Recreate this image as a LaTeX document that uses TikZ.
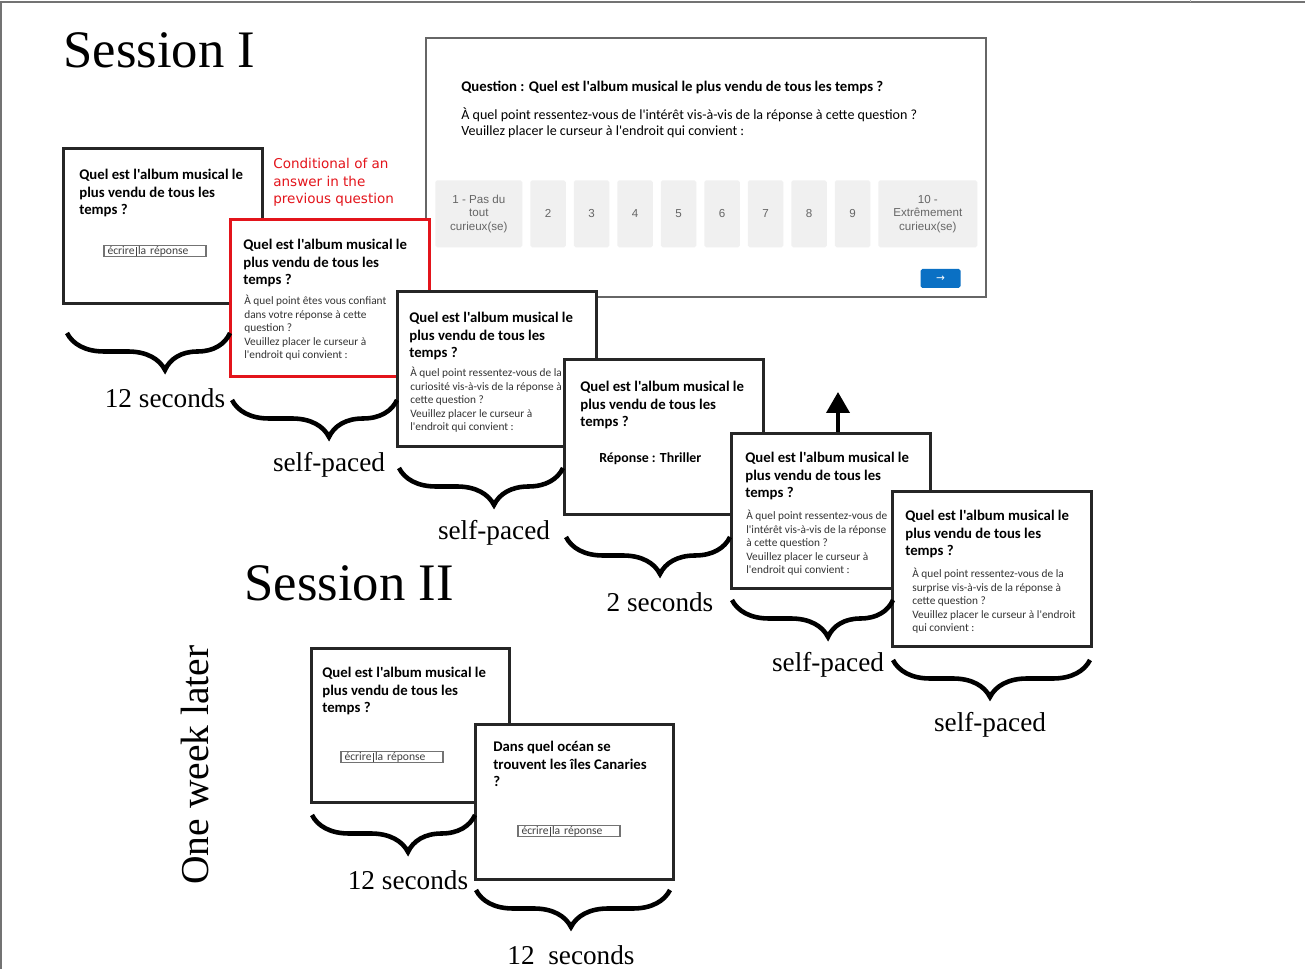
\documentclass[tikz,border=0pt]{standalone}
\usepackage{fontspec}
\setmainfont{Liberation Serif}
\newfontfamily\boxfont{Carlito}
\newfontfamily\arialfont{Liberation Sans}
\newfontfamily\verdfont{DejaVu Sans}
\usepackage{tikz}
\usetikzlibrary{arrows.meta, positioning, calc, decorations.pathreplacing}
\definecolor{condred}{HTML}{E3141B}
\definecolor{btngray}{HTML}{F0F0F0}
\definecolor{nextblue}{HTML}{0A70C4}
\tikzset{
  screen/.style={
    rectangle, draw=black!85, line width=1.6pt, fill=white,
    minimum width=3.98cm, minimum height=3.1cm,
    anchor=north west, inner sep=0pt
  },
  redscreen/.style={screen, draw=condred},
  panelbox/.style={
    rectangle, draw=black!60, line width=1.1pt, fill=white,
    minimum width=11.2cm, minimum height=5.18cm,
    anchor=north west, inner sep=0pt
  },
  qtitle/.style={
    anchor=north west, inner sep=0pt, align=left,
    font=\boxfont\bfseries\fontsize{8.4}{9.9}\selectfont
  },
  qsub/.style={
    anchor=north west, inner sep=0pt, align=left, text=black!80,
    font=\boxfont\fontsize{6.45}{7.65}\selectfont
  },
  answerfield/.style={
    rectangle, draw=black!55, line width=0.6pt, fill=white,
    text width=1.9cm, inner xsep=0.07cm, inner ysep=0.2pt,
    align=left, text=black!75, font=\boxfont\fontsize{6.6}{6.6}\selectfont
  },
  scalebtn/.style={
    rectangle, fill=btngray, rounded corners=1pt,
    minimum width=0.71cm, minimum height=1.34cm,
    anchor=north west, inner sep=0pt, align=center, text=black!60,
    font=\arialfont\fontsize{6.6}{7.7}\selectfont
  },
  bigbrace/.style={
    decorate, decoration={brace, mirror, amplitude=0.74cm, aspect=#1},
    line width=2.6pt
  },
  timelabel/.style={font=\fontsize{15.5}{18}\selectfont},
  sessionlabel/.style={font=\fontsize{30}{34}\selectfont, anchor=west, inner sep=0pt},
  uparrow/.style={-{Triangle[length=0.42cm, width=0.46cm]}, line width=2.2pt}
}
\newcommand{\albumq}{Quel est l'album musical le\\plus vendu de tous les\\temps ?}
\newcommand{\typehere}{écrire\kern1pt\rule[-0.35ex]{0.4pt}{1.7ex}\kern0.6pt la réponse}

\begin{document}
\begin{tikzpicture}[x=0.02cm, y=-0.02cm]
\useasboundingbox (0,0) rectangle (1305,969);

% ── page frame ───────────────────────────────────────────────────────────────
\draw[black!55, line width=0.8pt] (1,969) -- (1,2) -- (1305,2);
\draw[black!30, line width=0.5pt] (1190,0) -- (1190,2);

% ── rating screen ────────────────────────────────────────────────────────────
\node[panelbox] (panel) at (425,37) {};
\node[anchor=west, inner sep=0pt, font=\boxfont\bfseries\fontsize{8.4}{9}\selectfont]
  (panelq) at (461,87) {Question : Quel est l'album musical le plus vendu de tous les temps ?};
\node[anchor=north west, inner sep=0pt, align=left, font=\boxfont\fontsize{8}{9.1}\selectfont]
  (panelsub) at (461,107) {À quel point ressentez-vous de l'intérêt vis-à-vis de la réponse à cette question ?\\
  Veuillez placer le curseur à l'endroit qui convient :};

\node[scalebtn, minimum width=1.74cm] (b1) at (435,180) {1 - Pas du\\tout\\curieux(se)};
\foreach \bx [count=\k from 2] in {530,573.5,617,660.5,704,747.5,791,834.5}
  \node[scalebtn] (b\k) at (\bx,180) {\k};
\node[scalebtn, minimum width=1.98cm] (b10) at (878,180) {10 -\\Extrêmement\\curieux(se)};

\node[fill=nextblue, rounded corners=1pt, minimum width=0.8cm, minimum height=0.38cm,
      inner sep=0pt, text=white, font=\verdfont\fontsize{6}{6}\selectfont]
  (next) at (940.5,278.5) {→};

% ── Session I ────────────────────────────────────────────────────────────────
\node[sessionlabel] (sess1) at (63,50) {Session I};

\node[screen] (s1) at (62,147) {};
\node[qtitle] at ([shift={(17,22)}]s1.north west) {\albumq};
\node[answerfield] (f1) at ([shift={(93,104)}]s1.north west) {\typehere};

\node[anchor=north west, inner sep=0pt, align=left, text=condred,
      font=\verdfont\fontsize{7.7}{9.9}\selectfont]
  (cond) at (273,158) {Conditional of an\\answer in the\\previous question};

\node[redscreen, minimum height=3.14cm] (s2) at (229,218) {};
\node[qtitle] at ([shift={(14,21)}]s2.north west) {\albumq};
\node[qsub] at ([shift={(15,77)}]s2.north west)
  {À quel point êtes vous confiant\\dans votre réponse à cette\\question ?\\Veuillez placer le curseur à\\l'endroit qui convient :};

\node[screen] (s3) at (396,290) {};
\node[qtitle] at ([shift={(13,22)}]s3.north west) {\albumq};
\node[qsub] at ([shift={(14,77)}]s3.north west)
  {À quel point ressentez-vous de la\\curiosité vis-à-vis de la réponse à\\cette question ?\\Veuillez placer le curseur à\\l'endroit qui convient :};

\node[screen] (s4) at (563,358) {};
\node[qtitle] at ([shift={(17,23)}]s4.north west) {\albumq};
\node[anchor=west, inner sep=0pt, font=\boxfont\bfseries\fontsize{7.9}{9}\selectfont]
  at ([shift={(36,101)}]s4.north west) {Réponse : Thriller};

\node[screen] (s5) at (730,432) {};
\node[qtitle] at ([shift={(15,20)}]s5.north west) {\albumq};
\node[qsub] at ([shift={(16,78)}]s5.north west)
  {À quel point ressentez-vous de\\l'intérêt vis-à-vis de la réponse\\à cette question ?\\Veuillez placer le curseur à\\l'endroit qui convient :};

\node[screen] (s6) at (891,490) {};
\node[qtitle] at ([shift={(14,20)}]s6.north west) {\albumq};
\node[qsub] at ([shift={(21,78)}]s6.north west)
  {À quel point ressentez-vous de la\\surprise vis-à-vis de la réponse à\\cette question ?\\Veuillez placer le curseur à l'endroit\\qui convient :};

\coordinate (arrtip) at (838,392);
\draw[uparrow] (s5.north -| arrtip) -- (arrtip);

% ── Session II ───────────────────────────────────────────────────────────────
\node[sessionlabel] (sess2) at (244,583) {Session II};
\node[rotate=90, font=\fontsize{22.5}{26}\selectfont] (later) at (195,765) {One week later};

\node[screen, minimum width=3.96cm, minimum height=3.08cm] (t1) at (310,647) {};
\node[qtitle] at ([shift={(12,20)}]t1.north west) {\albumq};
\node[answerfield] (f2) at ([shift={(82,110)}]t1.north west) {\typehere};

\node[screen, minimum width=3.96cm, minimum height=3.1cm] (t2) at (474,723) {};
\node[qtitle] at ([shift={(19,18)}]t2.north west) {Dans quel océan se\\trouvent les îles Canaries\\?};
\node[answerfield] (f3) at ([shift={(95,108)}]t2.north west) {\typehere};

% ── durations (tip x given separately) ───────────────────────────────────────
\foreach \xa/\xb/\xt/\yb/\lbl in {67/230/165/333/12 seconds, 232/397/329/400/self-paced,
    399/563/494/468/self-paced, 566/730/660/537/2 seconds, 732/893/828/600/self-paced,
    893/1090/990/660/self-paced, 312/475/408/815/12 seconds, 476/670/571/890/12~ seconds}
{
  \pgfmathsetmacro{\asp}{(\xt-\xa)/(\xb-\xa)}
  \draw[bigbrace=\asp] (\xa,\yb) -- (\xb,\yb);
  \node[timelabel] at (\xt, \yb+65) {\lbl};
}

\end{tikzpicture}
\end{document}
